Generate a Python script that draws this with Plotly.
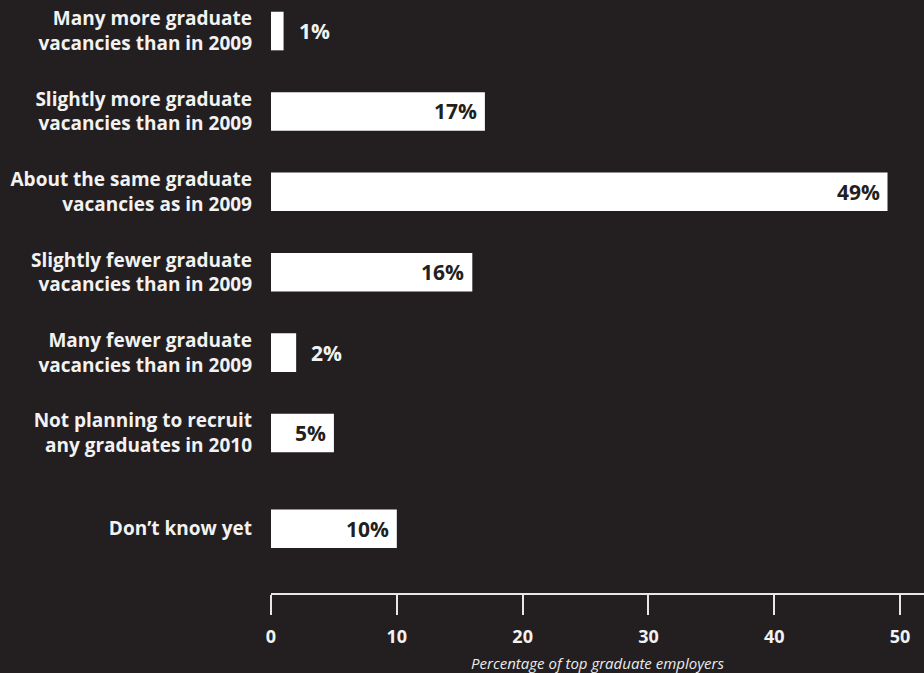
import plotly.graph_objects as go

# Survey answers and shares of employers (%)
categories = [
    "Many more graduate<br>vacancies than in 2009",
    "Slightly more graduate<br>vacancies than in 2009",
    "About the same graduate<br>vacancies as in 2009",
    "Slightly fewer graduate<br>vacancies than in 2009",
    "Many fewer graduate<br>vacancies than in 2009",
    "Not planning to recruit<br>any graduates in 2010",
    "Don\u2019t know yet",
]
shares = [1, 17, 49, 16, 2, 5, 10]
x_ticks = [0, 10, 20, 30, 40, 50]

# Row positions (last row set slightly apart from the rest)
row_pos = [0, 1, 2, 3, 4, 5, 6.19]

BG = "#231f20"
FG = "#f2f2f2"
FONT = "Open Sans"

fig = go.Figure(
    go.Bar(
        x=shares,
        y=row_pos,
        orientation="h",
        width=0.48,
        marker=dict(color="#ffffff", line=dict(width=0)),
        hoverinfo="skip",
    )
)

# Value labels: inside the bar end when it fits, otherwise just outside
for v, y in zip(shares, row_pos):
    inside = v >= 5
    fig.add_annotation(
        x=v, y=y, text=f"<b>{v}%</b>", showarrow=False,
        xanchor="right" if inside else "left",
        xshift=-6 if inside else 13,
        font=dict(family=FONT, size=21, color=BG if inside else FG),
    )

fig.update_layout(
    width=924, height=673,
    paper_bgcolor=BG, plot_bgcolor=BG,
    margin=dict(l=271, r=0, t=0, b=80),
    showlegend=False,
    font=dict(family=FONT, color=FG),
    xaxis=dict(
        range=[0, 51.9],
        tickvals=x_ticks,
        ticktext=[f"<b>{t}</b>" for t in x_ticks],
        showgrid=False, zeroline=False,
        showline=True, linecolor="#e6e6e6", linewidth=2,
        ticks="outside", ticklen=20, tickwidth=2, tickcolor="#e6e6e6",
        ticklabelstandoff=6,
        tickfont=dict(family=FONT, size=18, color=FG),
        title=dict(
            text="<i>Percentage of top graduate employers</i>",
            font=dict(family=FONT, size=15, color="#ececec"),
            standoff=12,
        ),
        fixedrange=True,
    ),
    yaxis=dict(
        range=[6.99, -0.386],
        tickvals=row_pos,
        ticktext=[f"<b>{c}</b>" for c in categories],
        showgrid=False, zeroline=False, showline=False,
        ticks="", ticklabelstandoff=18,
        tickfont=dict(family=FONT, size=19, color=FG),
        fixedrange=True,
    ),
)

fig.write_html("out.html")
